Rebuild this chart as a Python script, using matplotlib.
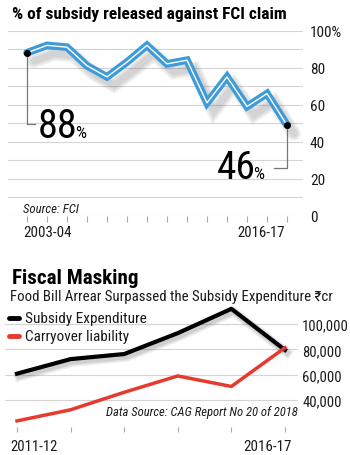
import matplotlib
matplotlib.use('Agg')
import matplotlib.pyplot as plt
import matplotlib.patheffects as pe
from matplotlib.lines import Line2D

# datos
years_fci = ['2003-04', '2004-05', '2005-06', '2006-07', '2007-08', '2008-09', '2009-10',
             '2010-11', '2011-12', '2012-13', '2013-14', '2014-15', '2015-16', '2016-17']
released_pct = [88, 92, 91, 81, 75, 83, 92, 82, 84, 61, 75, 59, 66, 49]
pct_ticks = [0, 20, 40, 60, 80, 100]
pct_labels = ['0', '20', '40', '60', '80', '100%']

years_cag = ['2011-12', '2012-13', '2013-14', '2014-15', '2015-16', '2016-17']
subsidy_exp = [60800, 72300, 76300, 92800, 112000, 79500]
carryover = [23500, 32300, 46100, 59000, 50700, 81300]
cr_ticks = [40000, 60000, 80000, 100000]
cr_labels = ['40,000', '60,000', '80,000', '100,000']

plt.rcParams['font.family'] = ['Roboto Condensed', 'DejaVu Sans']

W, H = 350, 456
fig = plt.figure(figsize=(W / 100, H / 100), dpi=100)
fig.patch.set_facecolor('white')


def px(x0, y0, x1, y1):
    # rect en pixeles (y desde arriba) -> fracciones de figura
    return [x0 / W, 1 - y1 / H, (x1 - x0) / W, (y1 - y0) / H]


def soft_shadow(dx, dy, widths, alpha):
    # sombra difusa: varias sombras superpuestas
    return [pe.SimpleLineShadow(offset=(dx, dy), shadow_color='#555555', alpha=alpha, linewidth=w)
            for w in widths]


grid_col = '#d4d4d4'
text_col = '#1a1a1a'
blue = '#3d9bd8'
red = '#e63a2e'
fit = []  # (texto, ancho en px buscado)

# ---------------- grafico de arriba ----------------
ax1 = fig.add_axes(px(8, 31.5, 303, 217))
x1 = list(range(len(years_fci)))
ax1.set_xlim(-0.95, 13.8)
ax1.set_ylim(0, 100)
for v in range(0, 101, 10):
    ax1.axhline(v, color=grid_col, lw=0.8, zorder=0)
for s in ax1.spines.values():
    s.set_visible(False)
ax1.yaxis.tick_right()
ax1.set_yticks(pct_ticks)
ax1.set_yticklabels(pct_labels)
ax1.tick_params(axis='y', length=0, pad=5, labelsize=11, labelcolor=text_col)
ax1.set_xticks(x1)
ax1.set_xticklabels([])
ax1.tick_params(axis='x', length=4, width=0.8, color='#aaaaaa', direction='out')

ax1.plot(x1, released_pct, color=blue, lw=5.5, solid_joinstyle='miter', solid_capstyle='round',
         zorder=3, path_effects=soft_shadow(5, -6, [10, 7.5, 5], 0.09) + [pe.Normal()])
ax1.plot(x1, released_pct, color='white', lw=1.0, solid_joinstyle='miter', zorder=4)
ax1.plot([x1[0], x1[-1]], [released_pct[0], released_pct[-1]], 'o', color='black', ms=4, zorder=5)

# lineas guia de las etiquetas
ax1.plot([0, 0, 0.4], [released_pct[0], 49.6, 49.6], color='#777777', lw=0.9, zorder=2)
ax1.plot([13, 13, 12.35], [released_pct[-1], 25.9, 25.9], color='#777777', lw=0.9, zorder=2)
t88 = ax1.text(0.55, 42.6, '88', fontsize=28.5, color='black', ha='left', va='baseline')
t46 = ax1.text(9.5, 20.5, '46', fontsize=28.5, color='black', ha='left', va='baseline')
fit += [(t88, 40), (t46, 39)]

ts = ax1.text(-0.2, 2.3, 'Source: FCI', fontsize=9.5, style='italic', color=text_col)
fit.append((ts, 56))
xt1 = ax1.get_xaxis_transform()
ty0 = ax1.text(-0.2, -0.05, years_fci[0], transform=xt1, fontsize=10.5, ha='left', va='top',
               color=text_col)
ty1 = ax1.text(12.9, -0.05, years_fci[-1], transform=xt1, fontsize=10.5, ha='right', va='top',
               color=text_col)
fit += [(ty0, 49), (ty1, 48)]

tt = fig.text(12 / W, 1 - 19 / H, '% of subsidy released against FCI claim', fontsize=12,
              fontweight='bold', ha='left', va='baseline', color='black')
fit.append((tt, 275))

# ---------------- grafico de abajo ----------------
tf = fig.text(12 / W, 1 - 284 / H, 'Fiscal Masking', fontsize=16, fontweight='bold',
              ha='left', va='baseline', color='black')
tsub = fig.text(10 / W, 1 - 301 / H, 'Food Bill Arrear Surpassed the Subsidy Expenditure \u20b9cr',
                fontsize=10.5, ha='left', va='baseline', color=text_col)
fit += [(tf, 126), (tsub, 323)]

ax2 = fig.add_axes(px(5, 305, 298, 428))
x2 = list(range(len(years_cag)))
ax2.set_xlim(-0.224, 5.243)
ax2.set_ylim(18700, 115800)
for v in cr_ticks:
    ax2.axhline(v, color=grid_col, lw=0.8, zorder=0)
for s in ax2.spines.values():
    s.set_visible(False)
ax2.yaxis.tick_right()
ax2.set_yticks(cr_ticks)
ax2.set_yticklabels(cr_labels)
ax2.tick_params(axis='y', length=0, pad=3, labelsize=10.5, labelcolor=text_col)
ax2.set_xticks(x2)
ax2.set_xticklabels([])
ax2.tick_params(axis='x', length=3.5, width=0.8, color='#aaaaaa', direction='out')

ax2.plot(x2, subsidy_exp, color='black', lw=3, zorder=3, clip_on=False,
         path_effects=soft_shadow(1.5, -2, [7, 5, 3.5], 0.1) + [pe.Normal()])
ax2.plot(x2, carryover, color=red, lw=2.5, zorder=4, clip_on=False)

tds = ax2.text(5.243, 28200, 'Data Source: CAG Report No 20 of 2018', fontsize=9.2,
               style='italic', ha='right', va='baseline', color=text_col)
xt2 = ax2.get_xaxis_transform()
tb0 = ax2.text(-0.13, -0.1, years_cag[0], transform=xt2, fontsize=10.5, ha='left', va='top',
               color=text_col)
tb1 = ax2.text(5.13, -0.1, years_cag[-1], transform=xt2, fontsize=10.5, ha='right', va='top',
               color=text_col)
fit += [(tds, 192), (tb0, 48), (tb1, 49)]

# leyenda
for lab, col, ypx, wpx in [('Subsidy Expenditure', 'black', 319, 122),
                           ('Carryover liability', red, 337, 104)]:
    yf = 1 - ypx / H
    fig.add_artist(Line2D([9 / W, 19 / W], [yf, yf], color=col, lw=3.5,
                          solid_capstyle='round', transform=fig.transFigure))
    tl = fig.text(25 / W, yf, lab, fontsize=11, ha='left', va='center', color=text_col)
    fit.append((tl, wpx))

# ajustar tamaños de letra al ancho medido en la imagen
fig.canvas.draw()
r = fig.canvas.get_renderer()
for t, wpx in fit:
    w = t.get_window_extent(r).width
    t.set_fontsize(t.get_fontsize() * wpx / w)

# signo % pegado a la cifra grande, sobre la misma linea base
fig.canvas.draw()
for t in (t88, t46):
    bb = t.get_window_extent(r)
    xd = ax1.transData.inverted().transform((bb.x1 - 2.5, bb.y0))[0]
    ax1.text(xd, t.get_position()[1], '%', fontsize=12.5, color='black', ha='left', va='baseline')

fig.savefig('out.png', dpi=100, facecolor='white')
